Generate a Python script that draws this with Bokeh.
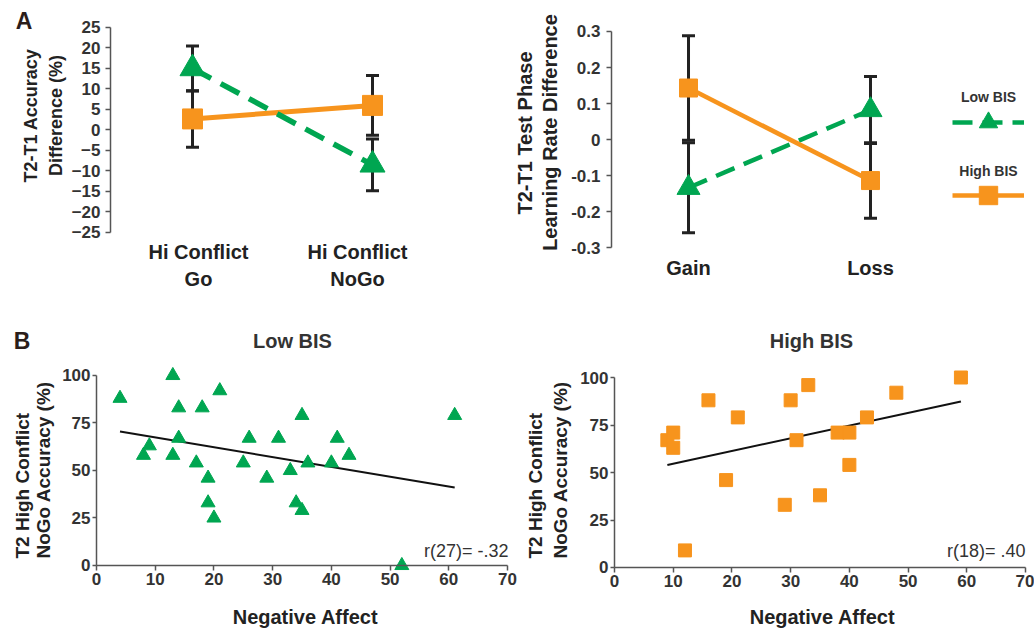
import math
from bokeh.plotting import figure
from bokeh.models import (Range1d, Label, Whisker, TeeHead, ColumnDataSource,
                          Legend, LegendItem, FixedTicker)
from bokeh.layouts import column, row
from bokeh.embed import file_html
from bokeh.resources import INLINE
from bokeh.core.properties import value

# ---------------- data ----------------
conflict_cats = ["Hi Conflict\nGo", "Hi Conflict\nNoGo"]
acc_low = [15.0, -8.5]
acc_low_err = [5.5, 6.3]
acc_high = [2.7, 6.0]
acc_high_err = [6.9, 7.3]
acc_ticks = [-25, -20, -15, -10, -5, 0, 5, 10, 15, 20, 25]

valence_cats = ["Gain", "Loss"]
lr_low = [-0.134, 0.082]
lr_low_err = [0.125, 0.093]
lr_high = [0.143, -0.114]
lr_high_err = [0.145, 0.105]
lr_ticks = [-0.3, -0.2, -0.1, 0, 0.1, 0.2, 0.3]
lr_tick_labels = ["-0.3", "-0.2", "-0.1", "0", "0.1", "0.2", "0.3"]

low_na = [4, 8, 9, 13, 13, 14, 14, 17, 18, 19, 19, 20, 21, 25, 26, 29, 31, 33,
          34, 35, 35, 36, 40, 41, 43, 52, 61]
low_acc = [88, 58, 63, 100, 58, 83, 67, 54, 83, 46, 33, 25, 92, 54, 67, 46, 67, 50,
           33, 29, 79, 54, 54, 67, 58, 0, 79]
low_fit_x = [4, 61]
low_fit_y = [70.5, 41.0]
low_r = "r(27)= -.32"

high_na = [9, 10, 10, 12, 16, 19, 21, 29, 30, 31, 33, 35, 38, 40, 40, 43, 48, 59]
high_acc = [67, 71, 63, 9, 88, 46, 79, 33, 88, 67, 96, 38, 71, 71, 54, 79, 92, 100]
high_fit_x = [9, 59]
high_fit_y = [54.0, 87.4]
high_r = "r(18)= .40"

scatter_xticks = [0, 10, 20, 30, 40, 50, 60, 70]
scatter_yticks = [0, 25, 50, 75, 100]

# ---------------- style ----------------
FONT = "Liberation Sans"
GREEN = "#00a651"
ORANGE = "#f7941d"
TXT = "#333333"
LAB = "#222222"
AXC = "#555555"
ERR = "#222222"


def make_fig(w, h, xr, yr, xloc, yloc, xbounds, ybounds):
    """Figure whose plotting frame fills the canvas; axes are pinned at data
    locations so that every text stays inside the frame."""
    p = figure(width=w, height=h, min_border_left=0, min_border_right=0,
               min_border_top=0, min_border_bottom=0, x_range=xr, y_range=yr,
               output_backend="svg", toolbar_location=None)
    p.outline_line_color = None
    p.grid.visible = False
    for ax in p.axis:
        ax.axis_line_color = AXC
        ax.axis_line_width = 1.5
        ax.major_tick_line_color = AXC
        ax.major_tick_line_width = 1.5
        ax.major_tick_in = 0
        ax.major_tick_out = 5
        ax.minor_tick_line_color = None
        ax.major_label_text_font = FONT
        ax.major_label_text_font_style = "bold"
        ax.major_label_text_color = TXT
        ax.major_label_text_font_size = "17px"
    p.xaxis.fixed_location = xloc
    p.yaxis.fixed_location = yloc
    if xbounds is not None:
        p.xaxis.bounds = xbounds
    p.yaxis.bounds = ybounds
    return p


class Placer:
    """Place text in screen pixels; (left, bottom) is the canvas corner."""
    def __init__(self, p, left, bottom):
        self.p, self.left, self.bottom = p, left, bottom

    def text(self, X, Y, txt, size, style="bold", color=LAB, align="center",
             baseline="middle", angle=0.0):
        self.p.add_layout(Label(x=X - self.left, y=self.bottom - Y, x_units="screen",
                                y_units="screen", text=txt, angle=angle,
                                text_font=FONT, text_font_size=f"{size}px",
                                text_font_style=style, text_color=color,
                                text_align=align, text_baseline=baseline))


def errbars(p, xs, ys, errs):
    src = ColumnDataSource(dict(x=xs, upper=[y + e for y, e in zip(ys, errs)],
                                lower=[y - e for y, e in zip(ys, errs)]))
    w = Whisker(base="x", upper="upper", lower="lower", source=src,
                dimension="height", line_width=3, line_color=ERR, level="underlay",
                upper_head=TeeHead(size=13, line_width=3, line_color=ERR),
                lower_head=TeeHead(size=13, line_width=3, line_color=ERR))
    p.add_layout(w)


def category_axis(p, cats, standoff):
    p.xaxis.ticker = FixedTicker(ticks=list(range(len(cats))))
    p.xaxis.major_label_overrides = {i: c for i, c in enumerate(cats)}
    p.xaxis.axis_line_color = None
    p.xaxis.major_tick_line_color = None
    p.xaxis.major_tick_out = 0
    p.xaxis.major_label_standoff = standoff
    p.xaxis.major_label_text_font_size = "20px"
    p.xaxis.major_label_text_color = LAB


# ---------------- panel A, left (page x 0-480, y 0-308) ----------------
xa = list(range(len(conflict_cats)))
p1 = make_fig(480, 308, Range1d(-1.0667, 1.6), Range1d(-43.54, 31.585),
              xloc=-25, yloc=-0.4556, xbounds=None, ybounds=(-25, 25))
p1.yaxis.ticker = FixedTicker(ticks=acc_ticks)
p1.yaxis.major_label_standoff = 5
p1.xaxis.visible = False   # category names are set as text below, as in the original
errbars(p1, xa, acc_low, acc_low_err)
errbars(p1, xa, acc_high, acc_high_err)
p1.line(xa, acc_high, line_color=ORANGE, line_width=5)
p1.line(xa, acc_low, line_color=GREEN, line_width=5.5, line_dash="21 11")
p1.scatter(xa, acc_high, marker="square", size=20, fill_color=ORANGE, line_color=ORANGE)
p1.scatter(xa, acc_low, marker="triangle", size=25, fill_color=GREEN, line_color=GREEN)
t1 = Placer(p1, 0, 308)
t1.text(23.5, 20, "A", 23, color="#2b1d1a")
t1.text(30, 115, "T2-T1 Accuracy", 18, angle=math.pi / 2)
t1.text(55, 115, "Difference (%)", 18, angle=math.pi / 2)
for cx, cat in zip([198, 357], conflict_cats):
    t1.text(cx, 265, cat, 20)

# ---------------- panel A, right (page x 480-1034, y 0-308) ----------------
xb = list(range(len(valence_cats)))
p2 = make_fig(554, 308, Range1d(-1.1429, 1.9011), Range1d(-0.4694, 0.3861),
              xloc=-0.3, yloc=-0.4231, xbounds=None, ybounds=(-0.3, 0.3))
p2.yaxis.ticker = FixedTicker(ticks=lr_ticks)
p2.yaxis.major_label_overrides = {t: s for t, s in zip(lr_ticks, lr_tick_labels)}
p2.yaxis.major_label_standoff = 6
category_axis(p2, valence_cats, 9)
errbars(p2, xb, lr_high, lr_high_err)
errbars(p2, xb, lr_low, lr_low_err)
l_low = p2.line(xb, lr_low, line_color=GREEN, line_width=4.5, line_dash="20 10")
l_high = p2.line(xb, lr_high, line_color=ORANGE, line_width=4.5)
s_high = p2.scatter(xb, lr_high, marker="square", size=18, fill_color=ORANGE, line_color=ORANGE)
s_low = p2.scatter(xb, lr_low, marker="triangle", size=23, fill_color=GREEN, line_color=GREEN)
leg = Legend(items=[LegendItem(label=value(" "), renderers=[l_low, s_low]),
                    LegendItem(label=value(" "), renderers=[l_high, s_high])],
             location=(472, 90), glyph_width=72, glyph_height=46, spacing=27,
             padding=0, margin=0, label_width=0, label_standoff=0,
             border_line_color=None, background_fill_alpha=0)
p2.add_layout(leg)
t2 = Placer(p2, 480, 308)
t2.text(524, 132.5, "T2-T1 Test Phase", 20, angle=math.pi / 2)
t2.text(549, 132, "Learning Rate Difference", 20, angle=math.pi / 2)
t2.text(988, 96, "Low BIS", 14, color=TXT)
t2.text(988, 170, "High BIS", 14, color=TXT)


# ---------------- panel B ----------------
def scatter_fig(w, xr, yr):
    p = make_fig(w, 322, xr, yr, xloc=0, yloc=0, xbounds=(0, 70), ybounds=(0, 100))
    p.xaxis.ticker = FixedTicker(ticks=scatter_xticks)
    p.yaxis.ticker = FixedTicker(ticks=scatter_yticks)
    p.xaxis.major_tick_out = 5
    p.xaxis.major_label_standoff = 3
    p.yaxis.major_tick_out = 4
    p.yaxis.major_label_standoff = 2
    return p


# bottom-left (page x 0-520, y 308-630)
p3 = scatter_fig(520, Range1d(-16.35, 72.21), Range1d(-34.21, 135.26))
p3.line(low_fit_x, low_fit_y, line_color="#111111", line_width=2)
p3.scatter(low_na, low_acc, marker="triangle", size=14, fill_color=GREEN, line_color=GREEN)
t3 = Placer(p3, 0, 630)
t3.text(21.5, 340, "B", 23, color="#2b1d1a")
t3.text(292, 340, "Low BIS", 20, color=TXT)
t3.text(305, 616, "Negative Affect", 20)
t3.text(22, 558, "T2 High Conflict", 19, align="left", angle=math.pi / 2)
t3.text(43, 558, "NoGo Accuracy (%)", 19, align="left", angle=math.pi / 2)
t3.text(508, 550, low_r, 18, style="normal", color=TXT, align="right")

# bottom-right (page x 520-1034, y 308-630)
p4 = scatter_fig(514, Range1d(-16.01, 71.53), Range1d(-33.16, 136.32))
p4.line(high_fit_x, high_fit_y, line_color="#111111", line_width=2)
p4.scatter(high_na, high_acc, marker="square", size=13, fill_color=ORANGE, line_color=ORANGE)
t4 = Placer(p4, 520, 630)
t4.text(811, 340, "High BIS", 20, color=TXT)
t4.text(822, 616, "Negative Affect", 20)
t4.text(535, 558, "T2 High Conflict", 19, align="left", angle=math.pi / 2)
t4.text(560, 558, "NoGo Accuracy (%)", 19, align="left", angle=math.pi / 2)
t4.text(1025, 550, high_r, 18, style="normal", color=TXT, align="right")

layout = column(row(p1, p2), row(p3, p4))
open("out.html", "w").write(file_html(layout, INLINE))
